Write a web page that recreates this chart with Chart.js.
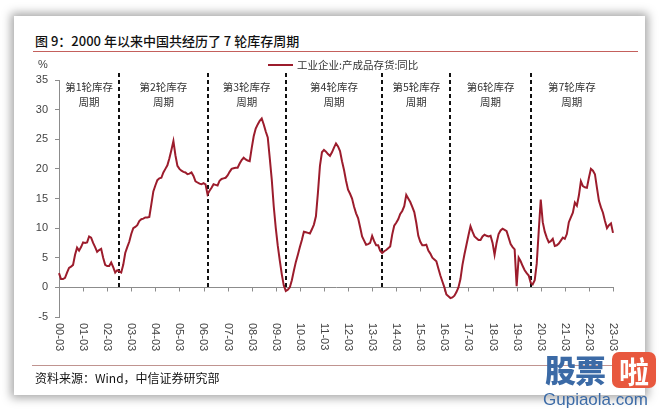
<!DOCTYPE html>
<html>
<head>
<meta charset="utf-8">
<script src="https://cdn.jsdelivr.net/npm/chart.js@4.4.1/dist/chart.umd.min.js"></script>
<style>
  body { margin: 0; width: 660px; height: 409px; overflow: hidden; background: #fff; position: relative; font-family: "Noto Sans CJK SC", "Liberation Sans", sans-serif; }
  .card { position: absolute; left: 14px; top: 16px; width: 631px; height: 379px; background: #fff; box-shadow: 0 0 9px 3px rgba(0,0,0,0.35); }
  .title { position: absolute; left: 35px; top: 33px; font-size: 13px; line-height: 16px; font-weight: 500; color: #111; white-space: nowrap; }
  .rule-top { position: absolute; left: 33px; top: 51px; width: 605px; height: 1px; background: #c4605c; }
  .rule-bottom { position: absolute; left: 32px; top: 365px; width: 608px; height: 1px; background: #c09490; }
  .source { position: absolute; left: 35px; top: 370px; font-size: 12px; line-height: 16px; color: #111; white-space: nowrap; }
  #chart { position: absolute; left: 0; top: 0; }
  .wm { position: absolute; left: 543px; top: 348px; width: 117px; height: 61px; }
  .wm .gp { position: absolute; left: 2px; top: 2px; font-size: 31px; line-height: 38px; font-weight: 900; color: #3b6aa6; letter-spacing: -1px; }
  .wm .la { position: absolute; left: 69px; top: 4px; width: 44px; height: 36px; border-radius: 7px; background: #e8583e; color: #fff; font-size: 30px; line-height: 36px; text-align: center; font-weight: 700; }
  .wm .dom { position: absolute; left: 0; top: 42px; font-family: "Liberation Sans", sans-serif; font-size: 17px; line-height: 19px; color: #3b6aa6; }
</style>
</head>
<body>
<div class="card"></div>
<div class="title">图 9：2000 年以来中国共经历了 7 轮库存周期</div>
<div class="rule-top"></div>
<canvas id="chart" width="660" height="409"></canvas>
<div class="rule-bottom"></div>
<div class="source">资料来源：Wind，中信证券研究部</div>
<div class="wm"><div class="gp">股票</div><div class="la">啦</div><div class="dom">Gupiaola.com</div></div>
<script>
// monthly categories 00-03 .. 23-03
const months = [];
for (let yr = 0; yr <= 23; yr++) {
    for (let mo = 1; mo <= 12; mo++) {
        if (yr === 0 && mo < 3) continue;
        if (yr === 23 && mo > 3) break;
        months.push(String(yr).padStart(2, '0') + '-' + String(mo).padStart(2, '0'));
    }
}

const yearTicks = ['00-03', '01-03', '02-03', '03-03', '04-03', '05-03', '06-03', '07-03', '08-03', '09-03', '10-03', '11-03',
    '12-03', '13-03', '14-03', '15-03', '16-03', '17-03', '18-03', '19-03', '20-03', '21-03', '22-03', '23-03'];

const seriesName = '工业企业:产成品存货:同比';

// one row per year, March to next February
const inventoryYoY = [
    2.4, 1.4, 1.4, 1.6, 2.5, 3.3, 3.5, 3.8, 5.5, 6.7, 6.2, 6.8,
    7.6, 7.5, 7.6, 8.6, 8.4, 7.5, 6.8, 6.0, 6.3, 6.5, 5.0, 3.8,
    3.6, 3.6, 4.2, 3.4, 2.5, 2.9, 2.7, 2.5, 3.8, 5.8, 6.8, 7.7,
    9.0, 10.0, 10.2, 10.5, 11.2, 11.5, 11.6, 11.8, 11.8, 11.9, 14.0, 16.2,
    17.2, 18.1, 18.4, 18.5, 19.4, 20.0, 20.6, 21.8, 23.2, 24.7, 22.3, 20.5,
    20.0, 19.7, 19.5, 19.4, 19.1, 19.2, 19.4, 18.8, 17.9, 17.7, 17.5, 17.4,
    17.6, 17.4, 15.7, 16.3, 16.8, 17.4, 17.3, 17.2, 18.0, 18.3, 18.4, 18.5,
    18.9, 19.5, 20.0, 20.1, 20.2, 20.2, 20.9, 21.5, 21.9, 21.6, 21.4, 21.3,
    23.5, 25.5, 26.8, 27.5, 28.1, 28.5, 27.5, 26.3, 25.3, 21.8, 18.2, 13.6,
    10.0, 7.0, 4.5, 2.2, 0.3, -0.6, -0.4, 0.0, 1.2, 2.8, 4.3, 5.5,
    6.8, 8.0, 9.4, 9.3, 9.2, 9.1, 9.8, 10.6, 12.0, 16.0, 20.5, 22.8,
    23.2, 22.9, 22.5, 22.2, 22.8, 23.6, 24.3, 23.8, 23.0, 21.3, 19.8, 18.0,
    16.5, 15.8, 15.0, 13.6, 12.5, 11.7, 10.2, 8.6, 7.9, 7.2, 7.3, 7.5,
    8.7, 7.8, 7.1, 7.1, 6.2, 5.8, 6.1, 6.3, 6.6, 6.9, 8.9, 10.4,
    10.9, 11.5, 12.4, 12.9, 13.7, 15.6, 15.0, 14.4, 13.6, 12.7, 10.9, 8.7,
    7.7, 7.1, 7.1, 7.2, 6.2, 5.7, 5.0, 4.7, 4.4, 3.2, 2.0, 1.0,
    0.0, -1.2, -1.5, -1.8, -1.7, -1.4, -0.8, 0.0, 1.4, 3.8, 5.6, 7.2,
    8.8, 10.3, 9.4, 8.6, 8.3, 8.0, 8.0, 8.6, 8.9, 8.7, 8.6, 8.7,
    7.5, 5.5, 7.5, 9.0, 9.6, 9.9, 9.7, 9.5, 8.4, 7.3, 6.8, 6.4,
    0.2, 5.0, 4.4, 3.6, 2.9, 2.4, 2.0, 0.8, 0.5, 1.2, 4.0, 9.5,
    14.8, 11.0, 9.4, 8.4, 7.6, 7.8, 8.2, 7.0, 7.1, 7.4, 7.9, 8.4,
    8.2, 9.0, 11.0, 11.8, 12.6, 14.3, 13.8, 15.5, 17.9, 17.1, 16.9, 16.8,
    18.5, 20.0, 19.7, 19.1, 16.8, 14.6, 13.5, 12.6, 11.2, 10.0, 10.5, 10.8,
    9.2
];

// months where a new inventory cycle starts
const cycleBounds = ['02-09', '06-05', '09-08', '13-08', '16-06', '19-10'];
const cycleNames = ['第1轮库存', '第2轮库存', '第3轮库存', '第4轮库存', '第5轮库存', '第6轮库存', '第7轮库存'];

const lineColor = '#9c1c2c';

const decor = {
    id: 'decor',
    beforeDatasetsDraw(chart) {
        const { ctx, chartArea, scales: { x, y } } = chart;
        const y0 = Math.round(y.getPixelForValue(0)) + 0.5;
        ctx.save();
        // zero line with yearly ticks
        ctx.strokeStyle = '#8c8c8c';
        ctx.lineWidth = 1;
        ctx.beginPath();
        ctx.moveTo(chartArea.left, y0);
        ctx.lineTo(chartArea.right + 1, y0);
        yearTicks.forEach(t => {
            const px = Math.round(x.getPixelForValue(months.indexOf(t))) + 0.5;
            ctx.moveTo(px, y0);
            ctx.lineTo(px, y0 + 4);
        });
        ctx.stroke();
        // cycle dividers
        ctx.setLineDash([4, 3]);
        ctx.lineWidth = 2;
        ctx.strokeStyle = '#111';
        cycleBounds.forEach(b => {
            const px = Math.round(x.getPixelForValue(months.indexOf(b)));
            ctx.beginPath();
            ctx.moveTo(px, y.getPixelForValue(36.2));
            ctx.lineTo(px, y0);
            ctx.stroke();
        });
        ctx.restore();
    },
    afterDraw(chart) {
        const { ctx, chartArea, scales: { x, y } } = chart;
        ctx.save();
        // rotated year labels under the plot
        ctx.font = '11px "Liberation Sans", Arial, sans-serif';
        ctx.fillStyle = '#444';
        ctx.textAlign = 'left';
        ctx.textBaseline = 'middle';
        yearTicks.forEach(t => {
            const px = x.getPixelForValue(months.indexOf(t));
            ctx.save();
            ctx.translate(px, chartArea.bottom + 6);
            ctx.rotate(Math.PI / 2);
            ctx.fillText(t, 0, 0);
            ctx.restore();
        });
        // unit
        ctx.textAlign = 'center';
        ctx.fillText('%', chartArea.left - 16, chartArea.top - 15);
        // cycle names, centred between dividers
        const edges = [0].concat(cycleBounds.map(b => months.indexOf(b)), [months.length - 1]);
        ctx.font = '10.5px "Noto Sans CJK SC", sans-serif';
        ctx.fillStyle = '#333';
        cycleNames.forEach((n, i) => {
            const cx = (x.getPixelForValue(edges[i]) + x.getPixelForValue(edges[i + 1])) / 2;
            ctx.fillText(n, cx, chartArea.top + 7);
            ctx.fillText('周期', cx, chartArea.top + 22);
        });
        // legend
        const lx = chartArea.left + 209, ly = chartArea.top - 15;
        ctx.strokeStyle = lineColor;
        ctx.lineWidth = 2;
        ctx.beginPath();
        ctx.moveTo(lx, ly);
        ctx.lineTo(lx + 25, ly);
        ctx.stroke();
        ctx.textAlign = 'left';
        ctx.fillText(seriesName, lx + 29, ly);
        ctx.restore();
    }
};

new Chart(document.getElementById('chart'), {
    type: 'line',
    data: {
        labels: months,
        datasets: [{
            label: seriesName,
            data: inventoryYoY,
            borderColor: lineColor,
            borderWidth: 2,
            pointRadius: 0,
            tension: 0,
            fill: false
        }]
    },
    options: {
        responsive: false,
        animation: false,
        layout: { padding: { left: 29, right: 47, top: 80, bottom: 92 } },
        plugins: { legend: { display: false }, tooltip: { enabled: false } },
        scales: {
            x: { display: false },
            y: {
                min: -5,
                max: 35,
                afterFit: s => { s.width = 30; },
                ticks: { stepSize: 5, padding: 7, color: '#444', font: { family: '"Liberation Sans", Arial, sans-serif', size: 11 } },
                grid: { drawOnChartArea: false, tickLength: 4, color: '#8c8c8c' },
                border: { color: '#8c8c8c' }
            }
        }
    },
    plugins: [decor]
});
</script>
</body>
</html>
